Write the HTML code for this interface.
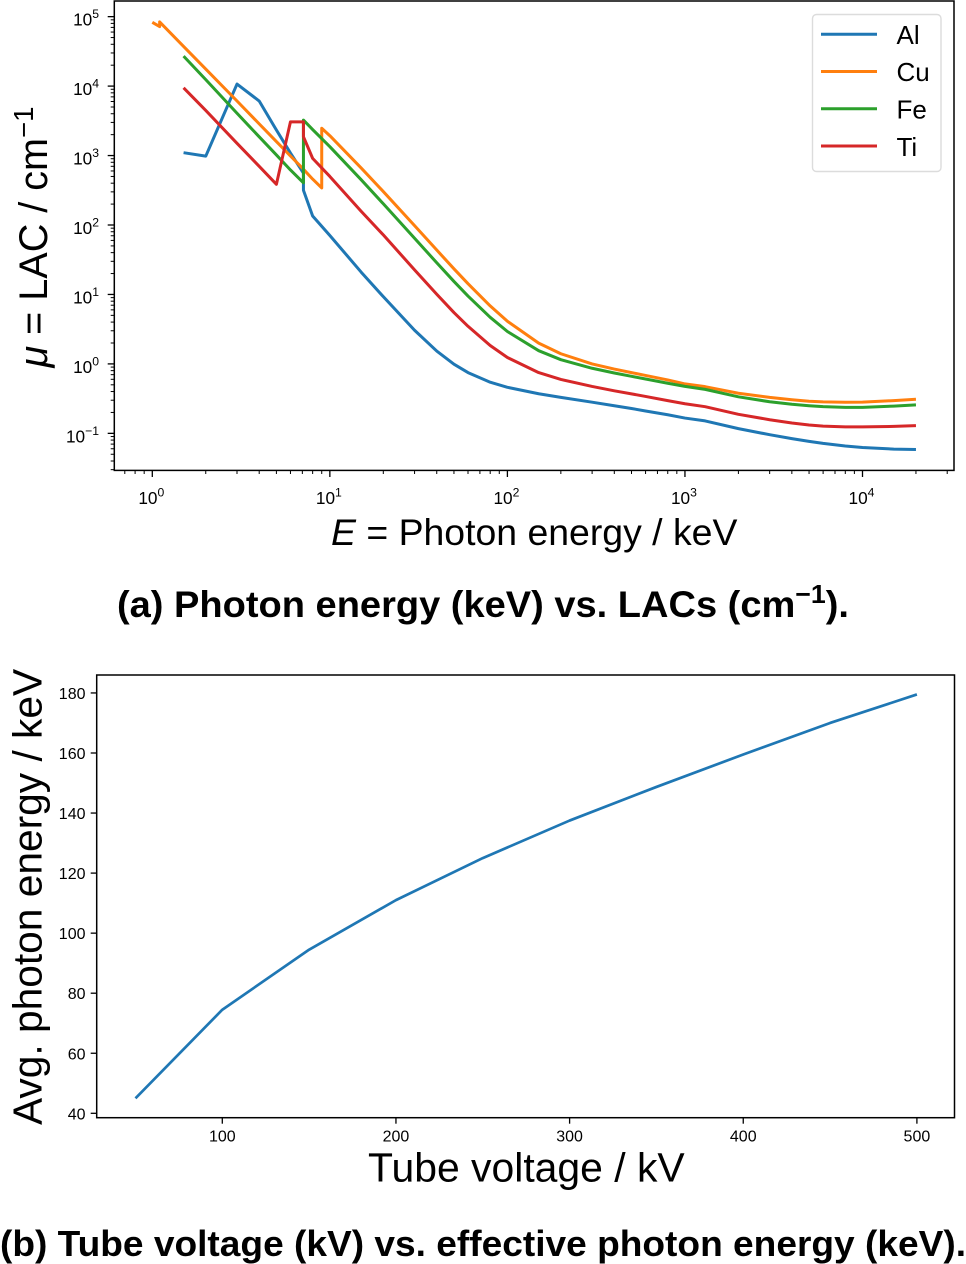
<!DOCTYPE html>
<html lang="en">
<head>
<meta charset="utf-8">
<title>Photon energy vs LAC and tube voltage vs photon energy</title>
<style>
html,body{margin:0;padding:0;background:#fff}
svg{display:block}
text{font-family:"Liberation Sans",Arial,sans-serif;fill:#000}
</style>
</head>
<body>
<svg id="fig" xmlns="http://www.w3.org/2000/svg" width="966" height="1264" viewBox="0 0 966 1264">
  <g id="chartA">
    <rect x="114.3" y="1" width="839.7" height="469.4" fill="#fff" stroke="#000" stroke-width="1.5"/>
    <g id="aTicks"></g>
    <g id="aLines"></g>
    <text x="331" y="545" font-size="37.4"><tspan font-style="italic">E</tspan> = Photon energy / keV</text>
    <text transform="translate(47,367.5) rotate(-90)" font-size="39.6"><tspan font-style="italic">μ</tspan> = LAC / cm<tspan font-size="27.5" dy="-14">−1</tspan></text>
    <g>
      <rect x="812.5" y="14.5" width="128.5" height="157" rx="4" fill="#fff" fill-opacity="0.8" stroke="#dcdcdc" stroke-width="1.4"/>
      <line x1="821" x2="877" y1="34.3" y2="34.3" stroke="#1f77b4" stroke-width="3"/>
      <text x="896.5" y="44" font-size="26">Al</text>
      <line x1="821" x2="877" y1="71.5" y2="71.5" stroke="#ff7f0e" stroke-width="3"/>
      <text x="896.5" y="81" font-size="26">Cu</text>
      <line x1="821" x2="877" y1="108.8" y2="108.8" stroke="#2ca02c" stroke-width="3"/>
      <text x="896.5" y="118.5" font-size="26">Fe</text>
      <line x1="821" x2="877" y1="146" y2="146" stroke="#d62728" stroke-width="3"/>
      <text x="896.5" y="156" font-size="26">Ti</text>
    </g>
    <text x="117" y="617" font-size="37" font-weight="bold" textLength="732" lengthAdjust="spacingAndGlyphs">(a) Photon energy (keV) vs. LACs (cm<tspan font-size="26" dy="-14">−1</tspan><tspan dy="14">).</tspan></text>
  </g>
  <g id="chartB">
    <rect x="96.7" y="675" width="857.8" height="442.7" fill="#fff" stroke="#000" stroke-width="1.5"/>
    <g id="bTicks"></g>
    <g id="bLines"></g>
    <text x="368" y="1181.5" font-size="40.9">Tube voltage / kV</text>
    <text transform="translate(41.7,1125) rotate(-90)" font-size="40.7">Avg. photon energy / keV</text>
    <text x="0" y="1256" font-size="36" font-weight="bold" textLength="966" lengthAdjust="spacingAndGlyphs">(b) Tube voltage (kV) vs. effective photon energy (keV).</text>
  </g>
</svg>
<script>
// Chart (a): energy grids and LAC values
const alEnergy = [1.5,2,3,4,5,6,7.1,7.1,8,10,15,20,30,40,50,60,80,100,150,200,300,400,500,600,800,1000,1300,2000,3000,4000,5000,6000,8000,10000,15000,20000];
const alLac = [1100,980,10700,6100,2330,1086,560,316,135,70.7,21,9.3,3.05,1.53,0.99,0.75,0.545,0.46,0.372,0.33,0.281,0.25,0.228,0.21,0.185,0.166,0.151,0.117,0.0956,0.0839,0.0766,0.0717,0.0658,0.0626,0.0593,0.0585];
const cuEnergy = [1,1.1,1.1,1.5,2,3,4,5,6,7,8,9,9,10,15,20,30,40,50,60,80,100,150,200,300,400,500,600,800,1000,1300,2000,3000,4000,5000,6000,8000,10000,15000,20000];
const cuLac = [83000,72000,84000,37300,17600,6100,2860,1590,985,660,458,342,2470,1930,663,303,97.8,43.6,23.4,14.3,6.84,4.11,1.99,1.4,1.0,0.843,0.749,0.682,0.588,0.515,0.47,0.378,0.33,0.305,0.29,0.284,0.28,0.282,0.296,0.31];
const feEnergy = [1.5,2,3,4,5,6,7.1,7.1,8,10,15,20,30,40,50,60,80,100,150,200,300,400,500,600,800,1000,1300,2000,3000,4000,5000,6000,8000,10000,15000,20000];
const feLac = [27000,12400,4060,1860,1020,620,405,3240,2370,1343,449,202,64.4,28.6,15.4,9.49,4.69,2.93,1.55,1.15,0.865,0.74,0.662,0.606,0.527,0.475,0.43,0.336,0.285,0.262,0.25,0.243,0.237,0.237,0.247,0.257];
const tiEnergy = [1.5,2,3,4,5,6,7.1,7.1,8,10,15,20,30,40,50,60,80,100,150,200,300,400,500,600,800,1000,1300,2000,3000,4000,5000,6000,8000,10000,15000,20000];
const tiLac = [9450,4460,1500,700,385,3060,3060,1865,910,500,158,72,22.6,10.05,5.48,3.48,1.84,1.235,0.749,0.597,0.474,0.41,0.37,0.34,0.296,0.267,0.242,0.188,0.157,0.141,0.132,0.127,0.124,0.124,0.126,0.129];
const aXTickExponents = [0,1,2,3,4];
const aYTickExponents = [-1,0,1,2,3,4,5];

// Chart (b): tube voltage vs average energy
const voltage = [50,100,150,200,250,300,350,400,450,500];
const avgEnergy = [45,74.5,94.5,111,125,137.5,148.7,159.5,170,179.5];
const bXTickLabels = [100,200,300,400,500];
const bYTickLabels = [40,60,80,100,120,140,160,180];

const NS = 'http://www.w3.org/2000/svg';
function mk(tag, parent, attrs) {
  const el = document.createElementNS(NS, tag);
  for (const k in attrs) el.setAttribute(k, attrs[k]);
  parent.appendChild(el);
  return el;
}

// Axis functions
const aX = e => 152.3 + 177.55 * Math.log10(e);
const aY = v => 225 - 69.45 * Math.log10(v / 100);
const bX = v => 222.3 + 1.7365 * (v - 100);
const bY = v => 1113.3 - 3.0025 * (v - 40);

const A_LEFT = 114.3, A_RIGHT = 954, A_TOP = 1, A_BOTTOM = 470.4;
const B_LEFT = 96.7, B_BOTTOM = 1117.7;

const aTicks = document.getElementById('aTicks');
const aLines = document.getElementById('aLines');
const bTicks = document.getElementById('bTicks');
const bLines = document.getElementById('bLines');

function powerLabel(parent, x, y, anchor, exponent) {
  const t = mk('text', parent, {x: x, y: y, 'font-size': 17.2, 'text-anchor': anchor});
  
  
  t.appendChild(document.createTextNode('10'));
  const s = mk('tspan', t, {'font-size': 12.2, dy: -7.5});
  s.textContent = String(exponent).replace('-', '\u2212');
}

// Chart (a) x ticks
aXTickExponents.forEach(exp => {
  const px = aX(Math.pow(10, exp));
  const tick = mk('line', aTicks, {x1: px, x2: px, y1: A_BOTTOM, y2: A_BOTTOM + 6.6, stroke: '#000', 'stroke-width': 1.3});
  
  
  powerLabel(aTicks, px - 1, 504, 'middle', exp);
});
for (let exp = -1; exp <= 4; exp++) {
  for (let m = 2; m < 10; m++) {
    const px = aX(m * Math.pow(10, exp));
    if (px < A_LEFT || px > A_RIGHT) continue;
    const tick = mk('line', aTicks, {x1: px, x2: px, y1: A_BOTTOM, y2: A_BOTTOM + 3.6, stroke: '#000', 'stroke-width': 1});
    
    
  }
}

// Chart (a) y ticks
aYTickExponents.forEach(exp => {
  const py = aY(Math.pow(10, exp));
  const tick = mk('line', aTicks, {x1: A_LEFT - 6.6, x2: A_LEFT, y1: py, y2: py, stroke: '#000', 'stroke-width': 1.3});
  
  
  powerLabel(aTicks, 99, py + 9, 'end', exp);
});
for (let exp = -2; exp <= 5; exp++) {
  for (let m = 2; m < 10; m++) {
    const py = aY(m * Math.pow(10, exp));
    if (py < A_TOP || py > A_BOTTOM) continue;
    const tick = mk('line', aTicks, {x1: A_LEFT - 3.6, x2: A_LEFT, y1: py, y2: py, stroke: '#000', 'stroke-width': 1});
    
    
  }
}

function pathOf(xs, ys, fx, fy) {
  return xs.map((x, i) => fx(x).toFixed(2) + ',' + fy(ys[i]).toFixed(2)).join(' ');
}

// Chart (a) series, in matplotlib draw order
const alLine = mk('polyline', aLines, {points: pathOf(alEnergy, alLac, aX, aY), fill: 'none', stroke: '#1f77b4', 'stroke-width': 3, 'stroke-linejoin': 'round'});


const cuLine = mk('polyline', aLines, {points: pathOf(cuEnergy, cuLac, aX, aY), fill: 'none', stroke: '#ff7f0e', 'stroke-width': 3, 'stroke-linejoin': 'round'});


const feLine = mk('polyline', aLines, {points: pathOf(feEnergy, feLac, aX, aY), fill: 'none', stroke: '#2ca02c', 'stroke-width': 3, 'stroke-linejoin': 'round'});


const tiLine = mk('polyline', aLines, {points: pathOf(tiEnergy, tiLac, aX, aY), fill: 'none', stroke: '#d62728', 'stroke-width': 3, 'stroke-linejoin': 'round'});



// Chart (b) ticks
bXTickLabels.forEach(v => {
  const px = bX(v);
  const tick = mk('line', bTicks, {x1: px, x2: px, y1: B_BOTTOM, y2: B_BOTTOM + 6, stroke: '#000', 'stroke-width': 1.3});
  
  
  const t = mk('text', bTicks, {x: px, y: 1141.5, 'font-size': 16, 'text-anchor': 'middle'});
  
  
  t.textContent = v;
});
bYTickLabels.forEach(v => {
  const py = bY(v);
  const tick = mk('line', bTicks, {x1: B_LEFT - 6, x2: B_LEFT, y1: py, y2: py, stroke: '#000', 'stroke-width': 1.3});
  
  
  const t = mk('text', bTicks, {x: 85.5, y: py + 6, 'font-size': 16, 'text-anchor': 'end'});
  
  
  t.textContent = v;
});

// Chart (b) series
const voltageLine = mk('polyline', bLines, {points: pathOf(voltage, avgEnergy, bX, bY), fill: 'none', stroke: '#1f77b4', 'stroke-width': 2.7, 'stroke-linejoin': 'round'});


</script>
</body>
</html>
